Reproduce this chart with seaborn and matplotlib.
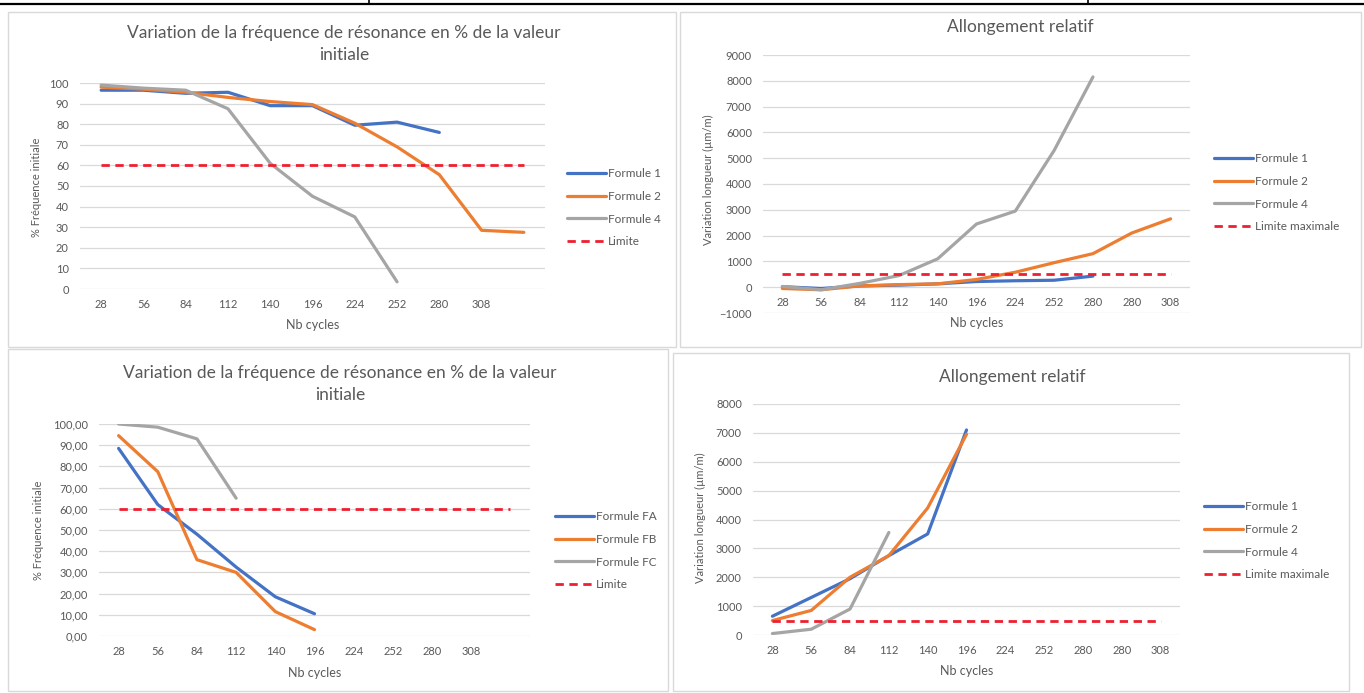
import numpy as np
import matplotlib
matplotlib.use("Agg")
import matplotlib.pyplot as plt
from matplotlib.patches import Rectangle
from matplotlib.lines import Line2D
from matplotlib.ticker import FuncFormatter
import seaborn as sns

# =====================================================
# DATA
# =====================================================

cycles_freq = ["28", "56", "84", "112", "140", "196", "224", "252", "280", "308", ""]
cycles_allong = ["28", "56", "84", "112", "140", "196", "224", "252", "280", "280", "308"]

# top left : frequence de resonance (%)
freq1_f1 = [96.5, 96.5, 95, 95.5, 89, 89, 79.5, 81, 76]
freq1_f2 = [98, 97, 95.5, 93, 91, 89.5, 80.5, 69, 55.5, 28.5, 27.5]
freq1_f4 = [99, 97.5, 96.5, 87.5, 61, 45, 35, 3.5]
freq1_limite = [60, 60, 60, 60, 60, 60, 60, 60, 60, 60, 60]

# top right : allongement relatif (um/m)
allong1_f1 = [20, -50, 50, 80, 130, 220, 250, 270, 430]
allong1_f2 = [-50, -100, 50, 100, 130, 300, 580, 950, 1300, 2100, 2650]
allong1_f4 = [30, -100, 150, 450, 1100, 2450, 2950, 5300, 8150]
allong1_limite = [500, 500, 500, 500, 500, 500, 500, 500, 500, 500, 500]

# bottom left : frequence de resonance (%)
freq2_fa = [88.5, 62, 48, 32.5, 18.5, 10.5]
freq2_fb = [94.5, 77.5, 36, 30, 11.5, 3]
freq2_fc = [100, 98.5, 93, 65]
freq2_limite = [60, 60, 60, 60, 60, 60, 60, 60, 60, 60, 60]

# bottom right : allongement relatif (um/m)
allong2_f1 = [650, 1300, 1950, 2750, 3500, 7100]
allong2_f2 = [500, 850, 2000, 2750, 4400, 6950]
allong2_f4 = [50, 200, 900, 3550]
allong2_limite = [500, 500, 500, 500, 500, 500, 500, 500, 500, 500, 500]

# =====================================================
# STYLE
# =====================================================

sns.set_theme(style="white")
plt.rcParams["font.family"] = ["Lato", "DejaVu Sans"]

BLUE = "#4472C4"
ORANGE = "#ED7D31"
GREY = "#A5A5A5"
RED = "#EE2030"
TXT = "#595959"
GRID = "#D9D9D9"

W, H = 1364, 693
fig = plt.figure(figsize=(W / 100, H / 100), dpi=100)
fig.patch.set_facecolor("white")


def fx(x):
    return x / W


def fy(y):
    return 1 - y / H


def draw_panel(box, rect, title, title_xy, ylabel, ylabel_xy, xlabel_xy,
               cats, series, limite, limite_label, ylim, yticks, legend_xy,
               yfmt=None):
    # chart border
    fig.add_artist(Rectangle((fx(box[0]), fy(box[3])), fx(box[2] - box[0]),
                             (box[3] - box[1]) / H, transform=fig.transFigure,
                             fill=False, edgecolor=GRID, lw=1))

    x0, y0, x1, y1 = rect
    ax = fig.add_axes([fx(x0), fy(y1), fx(x1 - x0), (y1 - y0) / H])
    ax.set_facecolor("none")

    for name, vals, color in series:
        sns.lineplot(x=np.arange(len(vals)), y=vals, ax=ax, color=color,
                     lw=2.3, label=name)
    sns.lineplot(x=np.arange(len(limite)), y=limite, ax=ax, color=RED,
                 lw=2, linestyle=(0, (3, 2)), label=limite_label)

    ax.set_xlim(-0.5, len(cats) - 0.5)
    ax.set_ylim(*ylim)
    ax.set_yticks(yticks)
    if yfmt is not None:
        ax.yaxis.set_major_formatter(FuncFormatter(yfmt))
    ax.set_xticks(np.arange(len(cats)))
    ax.set_xticklabels(cats)
    ax.set_xlabel("")
    ax.set_ylabel("")

    for s in ax.spines.values():
        s.set_visible(False)
    if ylim[0] < 0:
        ax.spines["bottom"].set_position(("data", 0))

    ax.yaxis.grid(True, color=GRID, lw=0.9)
    ax.xaxis.grid(False)
    ax.set_axisbelow(True)
    ax.tick_params(axis="both", length=0, labelsize=8, colors=TXT)
    ax.tick_params(axis="y", pad=8)
    ax.tick_params(axis="x", pad=7)

    ax.legend(loc="upper left", bbox_to_anchor=(fx(legend_xy[0]), fy(legend_xy[1])),
              bbox_transform=fig.transFigure, frameon=False, fontsize=8.5,
              labelcolor=TXT, handlelength=3.3, handletextpad=0.2,
              labelspacing=1.0, borderpad=0, borderaxespad=0)

    fig.text(fx(title_xy[0]), fy(title_xy[1]), title, ha="center", va="center",
             fontsize=12.5, color=TXT, linespacing=1.4)
    fig.text(fx(ylabel_xy[0]), fy(ylabel_xy[1]), ylabel, ha="center", va="center",
             rotation=90, fontsize=8, color=TXT)
    fig.text(fx(xlabel_xy[0]), fy(xlabel_xy[1]), "Nb cycles", ha="center",
             va="center", fontsize=9, color=TXT)
    return ax


title_freq = "Variation de la fréquence de résonance en % de la valeur\ninitiale"
title_allong = "Allongement relatif"

# top left
draw_panel(box=(8, 12, 676, 347), rect=(80, 83, 545, 289),
           title=title_freq, title_xy=(344, 44),
           ylabel="% Fréquence initiale", ylabel_xy=(37, 187),
           xlabel_xy=(313, 325), cats=cycles_freq,
           series=[("Formule 1", freq1_f1, BLUE), ("Formule 2", freq1_f2, ORANGE),
                   ("Formule 4", freq1_f4, GREY)],
           limite=freq1_limite, limite_label="Limite", ylim=(0, 100),
           yticks=np.arange(0, 101, 10), legend_xy=(567, 168))

# top right
draw_panel(box=(680, 12, 1361, 347), rect=(763, 55, 1190, 313),
           title=title_allong, title_xy=(1020, 27),
           ylabel="Variation longueur (µm/m)", ylabel_xy=(708, 180),
           xlabel_xy=(977, 323), cats=cycles_allong,
           series=[("Formule 1", allong1_f1, BLUE), ("Formule 2", allong1_f2, ORANGE),
                   ("Formule 4", allong1_f4, GREY)],
           limite=allong1_limite, limite_label="Limite maximale", ylim=(-1000, 9000),
           yticks=np.arange(-1000, 9001, 1000), legend_xy=(1214, 153))

# bottom left
draw_panel(box=(8, 349, 668, 691), rect=(99, 424, 530, 636),
           title=title_freq, title_xy=(340, 384),
           ylabel="% Fréquence initiale", ylabel_xy=(38, 530),
           xlabel_xy=(315, 673), cats=cycles_freq,
           series=[("Formule FA", freq2_fa, BLUE), ("Formule FB", freq2_fb, ORANGE),
                   ("Formule FC", freq2_fc, GREY)],
           limite=freq2_limite, limite_label="Limite", ylim=(0, 100),
           yticks=np.arange(0, 101, 10), legend_xy=(555, 511),
           yfmt=lambda v, p: f"{v:.2f}".replace(".", ","))

# bottom right
draw_panel(box=(673, 353, 1349, 691), rect=(753, 404, 1180, 635),
           title=title_allong, title_xy=(1012, 377),
           ylabel="Variation longueur (µm/m)", ylabel_xy=(700, 518),
           xlabel_xy=(967, 671), cats=cycles_allong,
           series=[("Formule 1", allong2_f1, BLUE), ("Formule 2", allong2_f2, ORANGE),
                   ("Formule 4", allong2_f4, GREY)],
           limite=allong2_limite, limite_label="Limite maximale", ylim=(0, 8000),
           yticks=np.arange(0, 8001, 1000), legend_xy=(1204, 501))

# table border at the top of the page
fig.add_artist(Line2D([0, 1], [fy(3.5), fy(3.5)], transform=fig.transFigure,
                      color="black", lw=1.6))
for xv in (369, 1088):
    fig.add_artist(Line2D([fx(xv), fx(xv)], [1, fy(3.5)], transform=fig.transFigure,
                          color="black", lw=1.2))

fig.savefig("out.png", dpi=100, facecolor="white")
